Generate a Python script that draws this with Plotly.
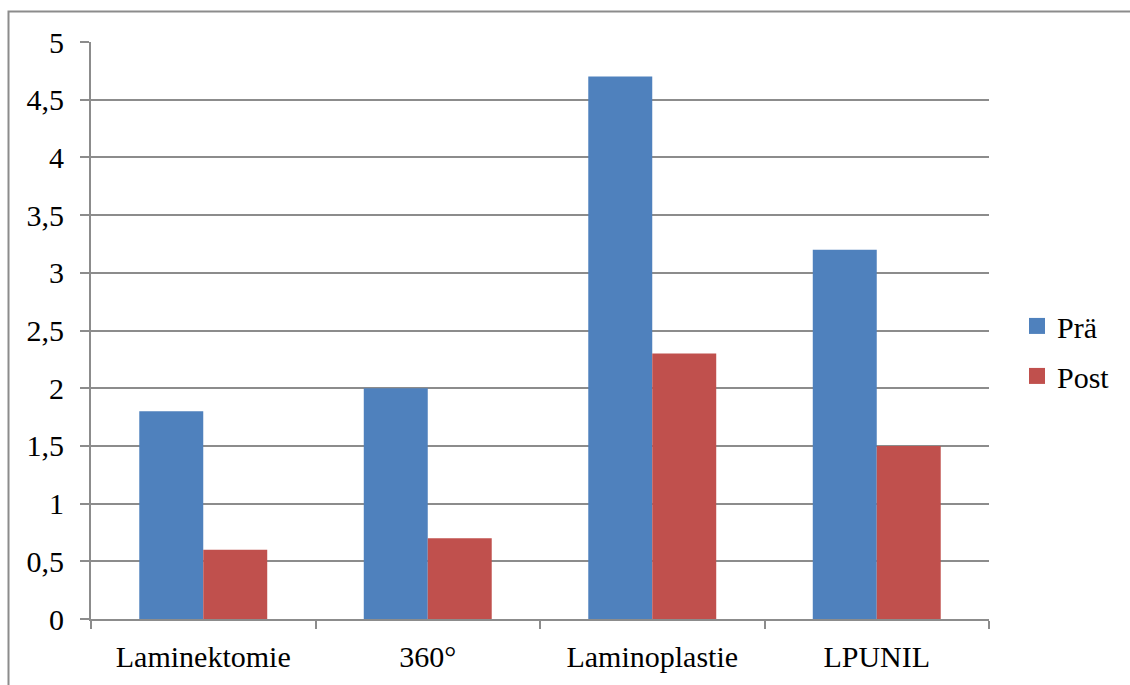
import plotly.graph_objects as go

categories = ["Laminektomie", "360°", "Laminoplastie", "LPUNIL"]
pre_values = [1.8, 2.0, 4.7, 3.2]
post_values = [0.6, 0.7, 2.3, 1.5]
series_names = ["Prä", "Post"]
y_ticks = [0, 0.5, 1, 1.5, 2, 2.5, 3, 3.5, 4, 4.5, 5]
y_ticklabels = ["0", "0,5", "1", "1,5", "2", "2,5", "3", "3,5", "4", "4,5", "5"]

BLUE = "#4F81BD"
RED = "#C0504D"
GRID = "#8c8c8c"
FONT = "Liberation Serif"
FS = 30

W, H = 1130, 685
L, R, T, B = 91, 141, 42, 64
pw, ph = W - L - R, H - T - B

fig = go.Figure()
for name, vals, col, grp in [(series_names[0], pre_values, BLUE, "a"),
                             (series_names[1], post_values, RED, "b")]:
    fig.add_trace(go.Bar(x=categories, y=vals, name=name, showlegend=False,
                         marker=dict(color=col, line=dict(width=0)), legendgroup=grp))
    # legend proxy (no data drawn) for a larger square legend key
    fig.add_trace(go.Scatter(x=[None], y=[None], mode="markers", name=name, legendgroup=grp,
                             marker=dict(symbol="square", size=16, color=col,
                                         line=dict(width=0))))

fig.update_layout(
    width=W, height=H,
    margin=dict(l=L, r=R, t=T, b=B, pad=0),
    paper_bgcolor="white", plot_bgcolor="white",
    barmode="group", bargap=0.43, bargroupgap=0,
    font=dict(family=FONT, size=FS, color="black"),
    legend=dict(x=(1017 - L) / pw, xanchor="left", y=(H - B - 352) / ph, yanchor="middle",
                font=dict(family=FONT, size=FS), traceorder="grouped", tracegroupgap=8,
                bgcolor="rgba(0,0,0,0)", itemsizing="trace"),
    xaxis=dict(showline=True, linecolor=GRID, linewidth=2, ticks="outside", tickson="boundaries",
               ticklen=8, tickcolor=GRID, tickwidth=2, showgrid=False,
               ticklabelstandoff=10, fixedrange=True),
    yaxis=dict(range=[0, 5], tickvals=y_ticks, ticktext=y_ticklabels, showline=True,
               linecolor=GRID, linewidth=2, ticks="outside", ticklen=9, tickcolor=GRID,
               tickwidth=2, showgrid=True, gridcolor=GRID, gridwidth=2, zeroline=False,
               ticklabelstandoff=10, fixedrange=True),
    shapes=[dict(type="rect", xref="paper", yref="paper",
                 x0=(8.5 - L) / pw, x1=(W + 10 - L) / pw,
                 y0=-(B + 10) / ph, y1=1 + (T - 11.5) / ph,
                 line=dict(color=GRID, width=2), fillcolor="rgba(0,0,0,0)", layer="below")],
)

fig.write_html("out.html")
